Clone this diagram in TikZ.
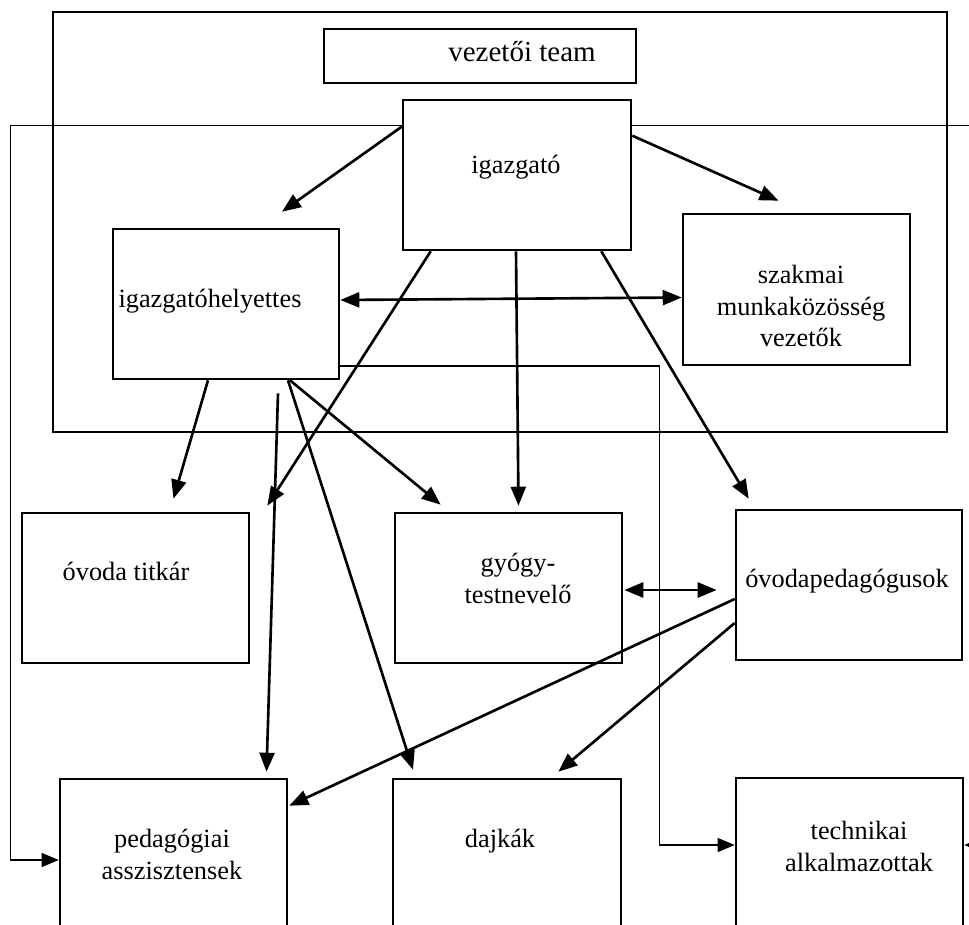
\documentclass[tikz,border=0pt]{standalone}
\usepackage{fontspec}
\setmainfont{Liberation Serif}
\usetikzlibrary{arrows.meta,calc}

\begin{document}
\begin{tikzpicture}[x=0.02cm,y=-0.02cm,
		box/.style={draw, line width=1.5pt, inner sep=0pt, minimum width=4.54cm, minimum height=3cm},
		txt/.style={anchor=base, align=center, inner sep=0pt, font=\fontsize{15}{18.2}\selectfont},
		arr/.style={line width=1.5pt, -{Triangle[length=0.38cm, width=0.3cm]}},
		biarr/.style={line width=1.5pt, {Triangle[length=0.38cm, width=0.3cm]}-{Triangle[length=0.38cm, width=0.3cm]}},
		thinarr/.style={line width=0.6pt, -{Triangle[length=0.34cm, width=0.28cm]}}]
		\useasboundingbox (0,0) rectangle (969,925);
		
		\node (vezetes) at (500,222) [draw, line width=1.5pt, minimum width=17.88cm, minimum height=8.4cm] {};
		\node (team) at (480,56) [draw, line width=1.1pt, minimum width=6.24cm, minimum height=1.08cm] {};
		\node (igazgato) at (517,175) [box, minimum width=4.56cm] {};
		\node (igazhely) at (226,304) [box, minimum width=4.52cm] {};
		\node (szakmai) at (796.5,289.5) [box, minimum height=3.02cm] {};
		\node (titkar) at (135.5,588) [box] {};
		\node (gyogy) at (508.5,588) [box] {};
		\node (ovodaped) at (849,585) [box, minimum width=4.52cm] {};
		\node (pedag) at (173.5,864.5) [box, minimum height=3.42cm] {};
		\node (dajkak) at (507,864.5) [box, minimum width=4.56cm, minimum height=3.42cm] {};
		\node (technikai) at (849.5,863.5) [box, minimum height=3.42cm] {};
		
		\node (team-txt) at (522,62) [txt, font=\fontsize{16.5}{19}\selectfont] {vezetői team};
		\node (igazgato-txt) at (516,174) [txt] {igazgató};
		\node (igazhely-txt) at (210,308) [txt] {igazgatóhelyettes};
		\node (szakmai-txt) at (801,347) [txt] {szakmai\\munkaközösség\\vezetők};
		\node (titkar-txt) at (126,580) [txt] {óvoda titkár};
		\node (gyogy-txt) at (518,603) [txt] {gyógy-\\testnevelő};
		\node (ovodaped-txt) at (847,587) [txt] {óvodapedagógusok};
		\node (pedag-txt) at (172,879) [txt] {pedagógiai\\asszisztensek};
		\node (dajkak-txt) at (500,847) [txt] {dajkák};
		\node (technikai-txt) at (859,871) [txt] {technikai\\alkalmazottak};
		
		\draw[arr] ($(igazgato.north west)+(0,28)$) -- ($(igazhely.north)+(56,-16)$);
		\draw[arr] ($(igazgato.north east)+(0,37)$) -- ($(szakmai.north)+(-18,-12)$);
		\draw[arr] ($(igazgato.south west)+(29,0)$) -- ($(titkar.north east)+(17,-6)$);
		\draw[arr] ($(igazgato.south)+(-1,0)$) -- ($(gyogy.north)+(10,-6)$);
		\draw[arr] ($(igazgato.south east)+(-31,0)$) -- ($(ovodaped.north west)+(14,-10)$);
		\draw[biarr] ($(igazhely.east)+(0,-4)$) -- ($(szakmai.west)+(0,8)$);
		\draw[arr] ($(igazhely.south)+(-18,0)$) -- ($(titkar.north)+(38,-13)$);
		\draw[arr] ($(igazhely.south)+(52,13)$) -- ($(pedag.north)+(93,-6)$);
		\draw[arr] ($(igazhely.south)+(62,0)$) -- ($(dajkak.north)+(-94,-8)$);
		\draw[arr] ($(igazhely.south)+(64,0)$) -- ($(gyogy.north west)+(47,-7)$);
		\draw[biarr] ($(gyogy.east)+(1,2)$) -- ($(ovodaped.west)+(-18,5)$);
		\draw[arr] ($(ovodaped.west)+(0,14)$) -- ($(pedag.north east)+(1,28)$);
		\draw[arr] ($(ovodaped.west)+(0,38)$) -- ($(dajkak.north east)+(-64,-6)$);
		
		\draw[thinarr] ($(igazhely.east)+(0,62)$) -- ++(319,0) |- ($(technikai.west)+(0,-18.5)$);
		\draw[thinarr] ($(igazgato.north west)+(0,27)$) -- ++(-391,0) |- ($(pedag.west)+(0,-4.5)$);
		\draw[thinarr] ($(igazgato.north east)+(0,27)$) -- ++(359,0) |- ($(technikai.east)+(0,-18.5)$);
	\end{tikzpicture}
\end{document}
